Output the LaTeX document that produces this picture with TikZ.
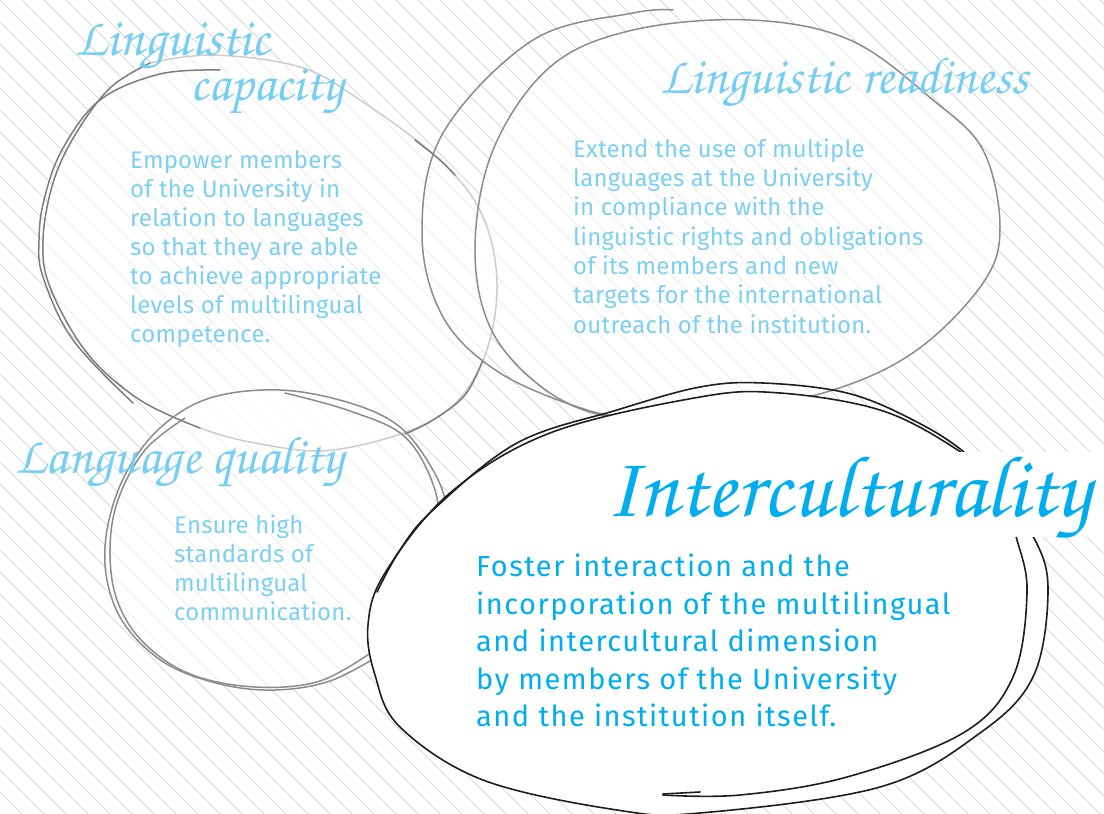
\documentclass[tikz,border=0pt]{standalone}
\usepackage[T1]{fontenc}
\usepackage{fontspec}
\usepackage{graphicx}
\newfontfamily\bodyfont{Fira Sans}[LetterSpace=0.9]
\newfontfamily\bigfont{Fira Sans}[LetterSpace=5.2]
\newcommand\scrfont{\fontencoding{T1}\fontfamily{pzc}\fontseries{mb}\fontshape{it}\selectfont}
\definecolor{hatchgrey}{RGB}{218,218,218}
\definecolor{titleblue}{RGB}{118,207,243}
\definecolor{bodyblue}{RGB}{125,208,242}
\definecolor{cyanblue}{RGB}{0,174,239}
\definecolor{darkgrey}{RGB}{125,125,125}
\definecolor{midgrey}{RGB}{140,140,140}
\definecolor{lightgrey}{RGB}{205,205,205}
\definecolor{inkblack}{RGB}{30,30,30}
\tikzset{
  hatch/.style={draw=hatchgrey,line width=0.8pt},
  veil/.style={fill=white,fill opacity=0.55,draw=none},
  darkstroke/.style={draw=darkgrey,line width=1.5pt,line cap=round},
  midstroke/.style={draw=midgrey,line width=1.5pt,line cap=round},
  lightstroke/.style={draw=lightgrey,line width=1.5pt,line cap=round},
  inkstroke/.style={draw=inkblack,line width=1.6pt,line cap=round},
  titletext/.style={inner sep=0pt,anchor=base west,text=titleblue},
  bodytext/.style={inner sep=0pt,anchor=base west,text=bodyblue,font=\bodyfont\fontsize{24}{29}\selectfont},
  bigtext/.style={inner sep=0pt,anchor=base west,text=cyanblue,font=\bigfont\fontsize{29}{37.5}\selectfont}
}
\begin{document}
\begin{tikzpicture}[x=1pt,y=-1pt]
\useasboundingbox (0,0) rectangle (1104,814);
\fill[white] (0,0) rectangle (1104,814);
% background hatching
\begin{scope}
\clip (0,0) rectangle (1104,814);
\foreach \i in {-38,...,51} \draw[hatch] (\i*22,0) -- ++(814,814);
\end{scope}
% veils inside the three grey circles
\fill[veil] plot[smooth cycle,tension=0.6] coordinates {(213,55) (300,67) (360,100) (440,160) (483,217) (497,290) (480,367) (433,420) (333,450) (250,442) (180,420) (120,380) (87,353) (50,287) (43,240) (53,183) (110,88) (150,63)};
\fill[veil] plot[smooth cycle,tension=0.6] coordinates {(750,20) (850,40) (933,100) (983,150) (1000,227) (983,283) (917,350) (833,390) (720,413) (620,418) (550,393) (493,333) (475,250) (493,150) (550,67) (633,30)};
\fill[veil] plot[smooth cycle,tension=0.6] coordinates {(450,545) (447,507) (433,470) (400,427) (350,403) (280,390) (210,398) (160,428) (125,475) (107,530) (107,580) (125,625) (165,663) (220,684) (275,690) (330,681) (380,655) (430,600)};
% linguistic capacity circle
\draw[lightstroke] plot[smooth,tension=0.6] coordinates {(150,63) (213,55) (300,67) (360,100) (440,160) (483,217) (497,290) (480,367) (433,420) (333,450) (250,442) (200,428)};
\draw[darkstroke] plot[smooth,tension=0.6] coordinates {(415,140) (440,160) (455,175)};
\draw[darkstroke] plot[smooth,tension=0.6] coordinates {(483,360) (465,395) (433,420) (405,434)};
\draw[darkstroke] plot[smooth,tension=0.6] coordinates {(150,63) (110,88) (75,135) (53,183) (43,240) (50,287) (87,353) (140,400) (200,428)};
\draw[darkstroke] plot[smooth,tension=0.6] coordinates {(220,70) (160,74) (100,100) (62,150) (44,200) (39,240) (43,277) (73,340) (133,403)};
% linguistic readiness circle
\draw[midstroke] plot[smooth cycle,tension=0.6] coordinates {(750,20) (850,40) (933,100) (983,150) (1000,227) (983,283) (917,350) (833,390) (720,413) (620,418) (550,393) (493,333) (475,250) (493,150) (550,67) (633,30)};
\draw[midstroke] plot[smooth,tension=0.6] coordinates {(673,10) (633,13) (533,40) (443,133) (422,233) (443,317) (500,373) (587,410) (640,418)};
% language quality circle
\draw[midstroke] plot[smooth,tension=0.6] coordinates {(450,545) (447,507) (433,470) (400,427) (350,403) (280,390) (210,398) (160,428) (125,475) (107,530) (107,580) (125,625) (165,663) (220,684) (275,690) (330,681) (380,655)};
\draw[midstroke] plot[smooth,tension=0.6] coordinates {(285,393) (350,411) (405,437) (435,490) (440,545)};
\draw[midstroke] plot[smooth,tension=0.6] coordinates {(185,418) (145,450) (118,500) (110,550) (117,600) (143,642) (190,674) (255,687) (320,681) (375,650)};
% interculturality ellipse
\filldraw[fill=white,inkstroke] plot[smooth cycle,tension=0.6] coordinates {(953,447) (990,480) (1035,540) (1048,593) (1033,677) (980,733) (880,787) (700,813) (617,810) (483,780) (400,727) (375,675) (368,625) (385,573) (450,493) (550,433) (700,397) (780,393) (880,410)};
\draw[inkstroke] plot[smooth,tension=0.6] coordinates {(377,592) (400,550) (433,510) (517,443) (617,410) (700,387) (763,383) (847,393) (913,420) (965,453) (1000,495) (1017,540) (1027,593) (1013,677) (963,733) (847,777) (740,795) (663,795)};
\draw[inkstroke] plot[smooth,tension=0.6] coordinates {(663,794) (700,792)};
\fill[white] (598,452) rectangle (1104,537);
% titles
\node[titletext] (t1a) at (75,55) {\resizebox{195pt}{!}{\scrfont Linguistic}};
\node[titletext] (t1b) at (190,100) {\resizebox{153pt}{!}{\scrfont capacity}};
\node[titletext] (t2) at (660,93) {\resizebox{368pt}{!}{\scrfont Linguistic readiness}};
\node[titletext] (t3) at (15,473) {\resizebox{328pt}{!}{\scrfont Language quality}};
\node[titletext,text=cyanblue] (t4) at (605,516) {\resizebox{485pt}{!}{\scrfont Interculturality}};
% body texts
\foreach \t [count=\i] in {Empower members,of the University in,relation to languages,so that they are able,to achieve appropriate,levels of multilingual,competence.}
  \node[bodytext] (cap\i) at (130,{168.3+29.1*(\i-1)}) {\t};
\foreach \t [count=\i] in {Extend the use of multiple,languages at the University,in compliance with the,linguistic rights and obligations,of its members and new,targets for the international,outreach of the institution.}
  \node[bodytext] (rdy\i) at (573,{157.3+29.3*(\i-1)}) {\t};
\foreach \t [count=\i] in {Ensure high,standards of,multilingual,communication.}
  \node[bodytext] (qual\i) at (174,{533.3+28.9*(\i-1)}) {\t};
\foreach \t [count=\i] in {Foster interaction and the,incorporation of the multilingual,and intercultural dimension,by members of the University,and the institution itself.}
  \node[bigtext] (int\i) at (476,{576.7+37.5*(\i-1)}) {\t};
\end{tikzpicture}
\end{document}
